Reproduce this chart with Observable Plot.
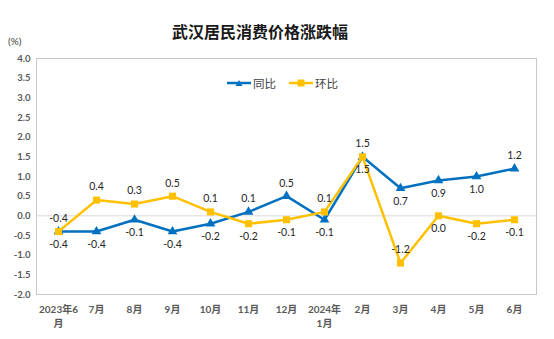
<!DOCTYPE html>
<html><head><meta charset="utf-8">
<script src="https://cdn.jsdelivr.net/npm/d3@7"></script>
<script src="https://cdn.jsdelivr.net/npm/@observablehq/plot@0.6"></script>
<style>
body{margin:0;background:#fff;}
#wrap{position:relative;width:554px;height:339px;font-family:Lato,"Noto Sans CJK SC",sans-serif;}
#title{position:absolute;left:0;width:520px;padding-left:0;top:19px;text-align:center;font:bold 16px/24px "Noto Sans CJK SC",sans-serif;color:#1a1a1a;}
#unit{position:absolute;left:8px;top:35px;font-size:10px;color:#404040;}
#legend{position:absolute;top:75px;left:227px;display:flex;gap:13px;font:11.5px "Noto Sans CJK SC",sans-serif;color:#404040;align-items:center;}
#legend span{display:flex;align-items:center;gap:2px;}
</style></head><body>
<div id="wrap"><div id="title"></div><div id="unit">(%)</div><div id="legend"></div></div>
<script>
const categories = ["2023年6\n月","7月","8月","9月","10月","11月","12月","2024年\n1月","2月","3月","4月","5月","6月"];
const yoy = [-0.4,-0.4,-0.1,-0.4,-0.2,0.1,0.5,-0.1,1.5,0.7,0.9,1.0,1.2];
const mom = [-0.4,0.4,0.3,0.5,0.1,-0.2,-0.1,0.1,1.5,-1.2,0.0,-0.2,-0.1];
const yoyLabelSide = ["below","below","below","below","below","above","above","below","above","below","below","below","above"];
const momLabelSide = ["above","above","above","above","above","below","below","above","below","above","below","below","below"];
const yTicks = [-2,-1.5,-1,-0.5,0,0.5,1,1.5,2,2.5,3,3.5,4];
const seriesNames = ["同比","环比"];
const colors = ["#0070C0","#FFC000"];
const titleText = "武汉居民消费价格涨跌幅";

document.getElementById("title").textContent = titleText;

const yoyData = categories.map((c,i)=>({c, v:yoy[i], side:yoyLabelSide[i]}));
const momData = categories.map((c,i)=>({c, v:mom[i], side:momLabelSide[i]}));
const fmt = d => d.toFixed(1);
const lblFont = {fontSize:10.5, fill:"#262626"};

const chart = Plot.plot({
  width:554, height:339,
  marginLeft:36, marginRight:18, marginTop:58, marginBottom:45,
  style:{fontFamily:'Lato,"Noto Sans CJK SC",sans-serif', background:"#fff"},
  x:{type:"point", domain:categories, padding:0.5, label:null},
  y:{domain:[-2,4], label:null},
  marks:[
    Plot.frame({stroke:"#c8c8c8"}),
    Plot.ruleY([0],{stroke:"#d9d9d9"}),
    Plot.axisY({ticks:yTicks, tickFormat:fmt, tickSize:0, tickPadding:6, fontSize:9.5, fontWeight:"bold", fill:"#595959", label:null}),
    Plot.axisX({tickSize:0, tickPadding:9, fontSize:10, fontWeight:"bold", fill:"#595959", lineHeight:1.35, label:null}),
    Plot.line(yoyData,{x:"c", y:"v", stroke:colors[0], strokeWidth:2.5}),
    Plot.dot(yoyData,{x:"c", y:"v", symbol:"triangle", r:3.6, fill:colors[0]}),
    Plot.line(momData,{x:"c", y:"v", stroke:colors[1], strokeWidth:2.5}),
    Plot.dot(momData,{x:"c", y:"v", symbol:"square", r:4, fill:colors[1]}),
    Plot.text(yoyData.filter(d=>d.side==="above"),{x:"c", y:"v", text:d=>fmt(d.v), dy:-13, ...lblFont}),
    Plot.text(yoyData.filter(d=>d.side==="below"),{x:"c", y:"v", text:d=>fmt(d.v), dy:13, ...lblFont}),
    Plot.text(momData.filter(d=>d.side==="above"),{x:"c", y:"v", text:d=>fmt(d.v), dy:-13, ...lblFont}),
    Plot.text(momData.filter(d=>d.side==="below"),{x:"c", y:"v", text:d=>fmt(d.v), dy:13, ...lblFont})
  ]
});
document.getElementById("wrap").appendChild(chart);

// legend
const leg = document.getElementById("legend");
const sym = ["M12 2 L15.5 8 L8.5 8 Z","M8.5 1.5 H15.5 V8.5 H8.5 Z"];
seriesNames.forEach((n,i)=>{
  const s = document.createElement("span");
  s.innerHTML = `<svg width="24" height="10"><line x1="0" y1="5" x2="24" y2="5" stroke="${colors[i]}" stroke-width="2.5"/><path d="${sym[i]}" fill="${colors[i]}"/></svg>${n}`;
  leg.appendChild(s);
});
</script>
</body></html>
